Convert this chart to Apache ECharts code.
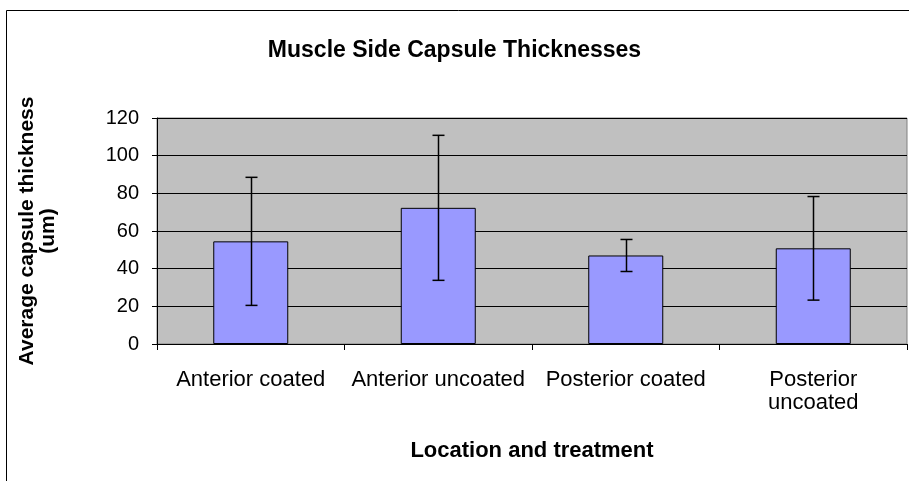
<!DOCTYPE html>
<html>
<head>
<meta charset="utf-8">
<script src="https://cdn.jsdelivr.net/npm/echarts@6/dist/echarts.min.js"></script>
<style>
  html, body { margin: 0; padding: 0; background: #fff; }
  #chart { width: 909px; height: 481px; }
</style>
</head>
<body>
<div id="chart"></div>
<script>
    const categories = ['Anterior coated', 'Anterior uncoated', 'Posterior coated', 'Posterior\nuncoated'];
    const means = [54.5, 72.3, 47.0, 50.8];
    const errors = [34.0, 38.5, 8.5, 27.5];
    const yTicks = [0, 20, 40, 60, 80, 100, 120];

    const chart = echarts.init(document.getElementById('chart'));
    const font = 'Liberation Sans, Arial, sans-serif';

    const errData = means.map((m, i) => [i, m - errors[i], m + errors[i]]);

    chart.setOption({
        animation: false,
        title: {
            text: 'Muscle Side Capsule Thicknesses',
            left: 'center',
            top: 34,
            textStyle: { fontFamily: font, fontSize: 23, fontWeight: 'bold', color: '#000' }
        },
        grid: {
            left: 157, right: 2, top: 118, bottom: 137,
            show: true, backgroundColor: '#C0C0C0', borderColor: '#808080', borderWidth: 1
        },
        graphic: [{
            type: 'rect',
            shape: { x: 6.5, y: 10.5, width: 920, height: 500 },
            style: { fill: 'none', stroke: '#000', lineWidth: 1 },
            z: -1
        }],
        xAxis: {
            type: 'category',
            data: categories,
            name: 'Location and treatment',
            nameLocation: 'middle',
            nameGap: 96,
            nameTextStyle: { fontFamily: font, fontSize: 22, fontWeight: 'bold', color: '#000' },
            axisLine: { lineStyle: { color: '#000' } },
            axisTick: { show: true, length: 6, lineStyle: { color: '#000' } },
            axisLabel: { fontFamily: font, fontSize: 22, color: '#000', margin: 24, lineHeight: 23, interval: 0 }
        },
        yAxis: {
            type: 'value',
            min: 0, max: 120, interval: 20,
            name: 'Average capsule thickness\n(um)',
            nameLocation: 'middle',
            nameGap: 98,
            nameTextStyle: { fontFamily: font, fontSize: 21, fontWeight: 'bold', color: '#000', lineHeight: 21 },
            axisLine: { show: true, lineStyle: { color: '#000' } },
            axisTick: { show: true, length: 5, lineStyle: { color: '#000' } },
            axisLabel: {
                fontFamily: font, fontSize: 20, color: '#000', margin: 18,
                formatter: v => yTicks.includes(v) ? String(v) : ''
            },
            splitLine: { show: true, lineStyle: { color: '#000', width: 1 } }
        },
        series: [
            {
                type: 'bar',
                data: means,
                barCategoryGap: '60%',
                itemStyle: { color: '#9999FF', borderColor: '#000', borderWidth: 1 }
            },
            {
                type: 'custom',
                data: errData,
                z: 10,
                renderItem: function (params, api) {
                    const x = api.value(0);
                    const lo = api.coord([x, api.value(1)]);
                    const hi = api.coord([x, api.value(2)]);
                    const cx = Math.round(lo[0]) + 0.5;
                    const style = { stroke: '#000', lineWidth: 1.5 };
                    return {
                        type: 'group',
                        children: [
                            { type: 'line', shape: { x1: cx, y1: lo[1], x2: cx, y2: hi[1] }, style },
                            { type: 'line', shape: { x1: cx - 6, y1: lo[1], x2: cx + 6, y2: lo[1] }, style },
                            { type: 'line', shape: { x1: cx - 6, y1: hi[1], x2: cx + 6, y2: hi[1] }, style }
                        ]
                    };
                }
            }
        ]
    });
</script>
</body>
</html>
